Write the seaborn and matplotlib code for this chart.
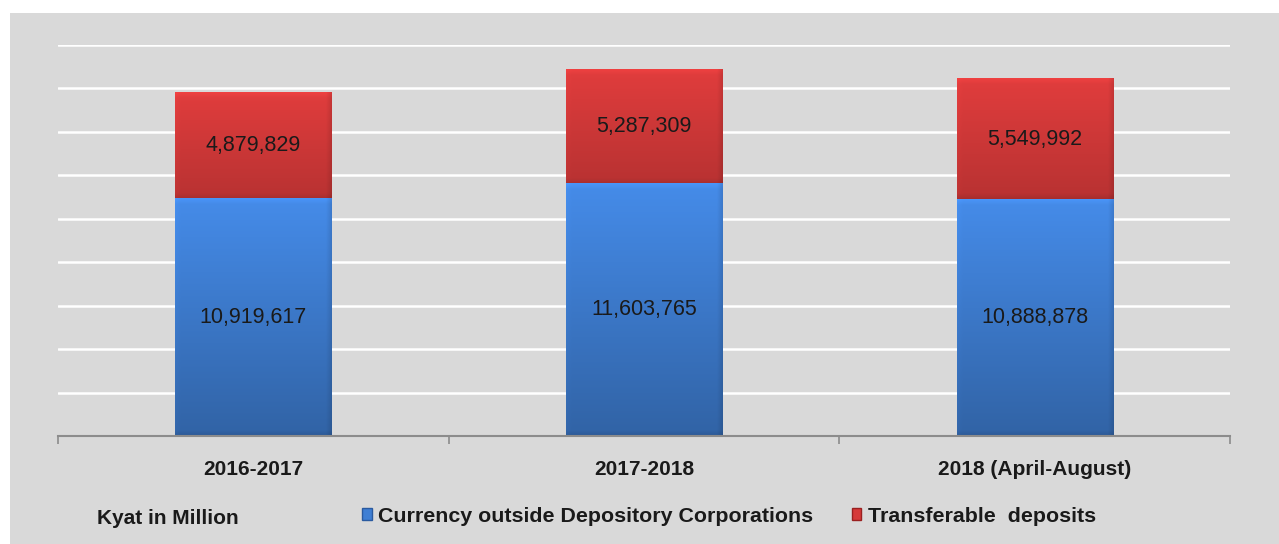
import numpy as np
import pandas as pd
import matplotlib
matplotlib.use("Agg")
import matplotlib.pyplot as plt
from matplotlib.patches import Rectangle, Patch
from matplotlib.colors import to_rgb
import seaborn as sns

# Money supply components, Kyat in million
periods = ["2016-2017", "2017-2018", "2018 (April-August)"]
currency = [10919617, 11603765, 10888878]
transferable = [4879829, 5287309, 5549992]
series_names = ["Currency outside Depository Corporations", "Transferable  deposits"]

BLUE = "#3f7fd4"
RED = "#d63a3a"
BG = "#d9d9d9"

sns.set_theme(style="white")
plt.rcParams["font.family"] = ["Liberation Sans", "DejaVu Sans"]

df = pd.DataFrame({
    "period": periods,
    "currency": currency,
    "total": [c + t for c, t in zip(currency, transferable)],
})

W, H = 1279, 544
fig = plt.figure(figsize=(W / 100, H / 100), dpi=100)
fig.patch.set_facecolor("white")
fig.add_artist(Rectangle((10 / W, 0), 1 - 10 / W, (H - 13) / H,
                         transform=fig.transFigure, facecolor=BG,
                         edgecolor="none", zorder=-10))

ax_px_h = 436 - 45
ax = fig.add_axes([58 / W, 108 / H, (1230 - 58) / W, ax_px_h / H])
ax.set_facecolor("none")
YMAX = 18e6

# stacked bars: full height in red, currency part in blue on top of it
sns.barplot(data=df, x="period", y="total", order=periods, color=RED,
            width=0.4, errorbar=None, saturation=1, ax=ax, zorder=2)
sns.barplot(data=df, x="period", y="currency", order=periods, color=BLUE,
            width=0.4, errorbar=None, saturation=1, ax=ax, zorder=3)


def shaded_image(color, top_light, bottom_dark, n, m, rim=6):
    """Vertical gradient with a soft bevelled rim, sized in pixels."""
    base = np.array(to_rgb(color))
    ys = np.arange(n)[:, None] + 0.5
    xs = np.arange(m)[None, :] + 0.5
    t = ys / n
    factor = (top_light + (bottom_dark - top_light) * t) * np.ones((1, m))
    w_top = np.clip(1 - ys / rim, 0, 1)
    w_bot = np.clip(1 - (n - ys) / rim, 0, 1)
    w_left = np.clip(1 - xs / rim, 0, 1)
    w_right = np.clip(1 - (m - xs) / rim, 0, 1)
    factor = factor * (1 + 0.07 * w_top) * (1 - 0.10 * w_bot)
    factor = factor * (1 + 0.03 * w_left) * (1 - 0.12 * w_right)
    return np.clip(base[None, None, :] * factor[:, :, None], 0, 1)


patches = list(ax.patches)
n_bars = len(periods)
px_per_unit = ax_px_h / YMAX
for i, p in enumerate(patches):
    x0, y0 = p.get_x(), p.get_y()
    w, h = p.get_width(), p.get_height()
    m = int(round(w * (1230 - 58) / 3))
    if i < n_bars:
        # red segment spans from the blue top to the total
        lo, hi = currency[i], y0 + h
        img = shaded_image(RED, 1.05, 0.86, int(round((hi - lo) * px_per_unit)), m)
        z = 2.5
    else:
        lo, hi = y0, y0 + h
        img = shaded_image(BLUE, 1.10, 0.78, int(round((hi - lo) * px_per_unit)), m)
        z = 3.5
    ax.imshow(img, extent=(x0, x0 + w, lo, hi), aspect="auto",
              interpolation="bilinear", zorder=z)
    p.set_edgecolor("none")

for i in range(n_bars):
    ax.text(i, currency[i] / 2, f"{currency[i]:,}", ha="center", va="center",
            fontsize=15.5, color="#1a1a1a", zorder=6)
    ax.text(i, currency[i] + transferable[i] / 2, f"{transferable[i]:,}",
            ha="center", va="center", fontsize=15.5, color="#1a1a1a", zorder=6)

ax.set_xlim(-0.5, 2.5)
ax.set_ylim(0, YMAX)
ax.set_yticks(np.arange(0, YMAX + 1, 2e6))
ax.yaxis.grid(True, color="white", linewidth=1.8)
ax.xaxis.grid(False)
ax.set_axisbelow(True)
ax.tick_params(axis="y", left=False, labelleft=False)
ax.set_xlabel("")
ax.set_ylabel("")
ax.set_xticks(range(n_bars))
ax.set_xticklabels(periods, fontsize=15, fontweight="bold", color="#1a1a1a")
ax.tick_params(axis="x", which="major", length=0, pad=17)
ax.set_xticks([-0.5, 0.5, 1.5, 2.5], minor=True)
ax.tick_params(axis="x", which="minor", length=6, width=1.2, color="#8c8c8c",
               direction="out", bottom=True)
for s in ["top", "left", "right"]:
    ax.spines[s].set_visible(False)
ax.spines["bottom"].set_color("#8c8c8c")
ax.spines["bottom"].set_linewidth(1.5)
ax.spines["bottom"].set_zorder(5)

fig.text(97 / W, 1 - 518 / H, "Kyat in Million", fontsize=15,
         fontweight="bold", color="#1a1a1a", ha="left", va="center")

handles = [Patch(facecolor=BLUE, edgecolor="#2a5aa0"),
           Patch(facecolor=RED, edgecolor="#9a2020")]
fig.legend(handles, series_names, loc="center left",
           bbox_to_anchor=(362 / W, 1 - 516 / H), ncol=2, frameon=False,
           handlelength=0.45, handleheight=0.45, handletextpad=0.3,
           columnspacing=1.8, borderpad=0, borderaxespad=0,
           prop={"size": 15.4, "weight": "bold"}, labelcolor="#1a1a1a")

fig.savefig("out.png", dpi=100, facecolor=fig.get_facecolor())
